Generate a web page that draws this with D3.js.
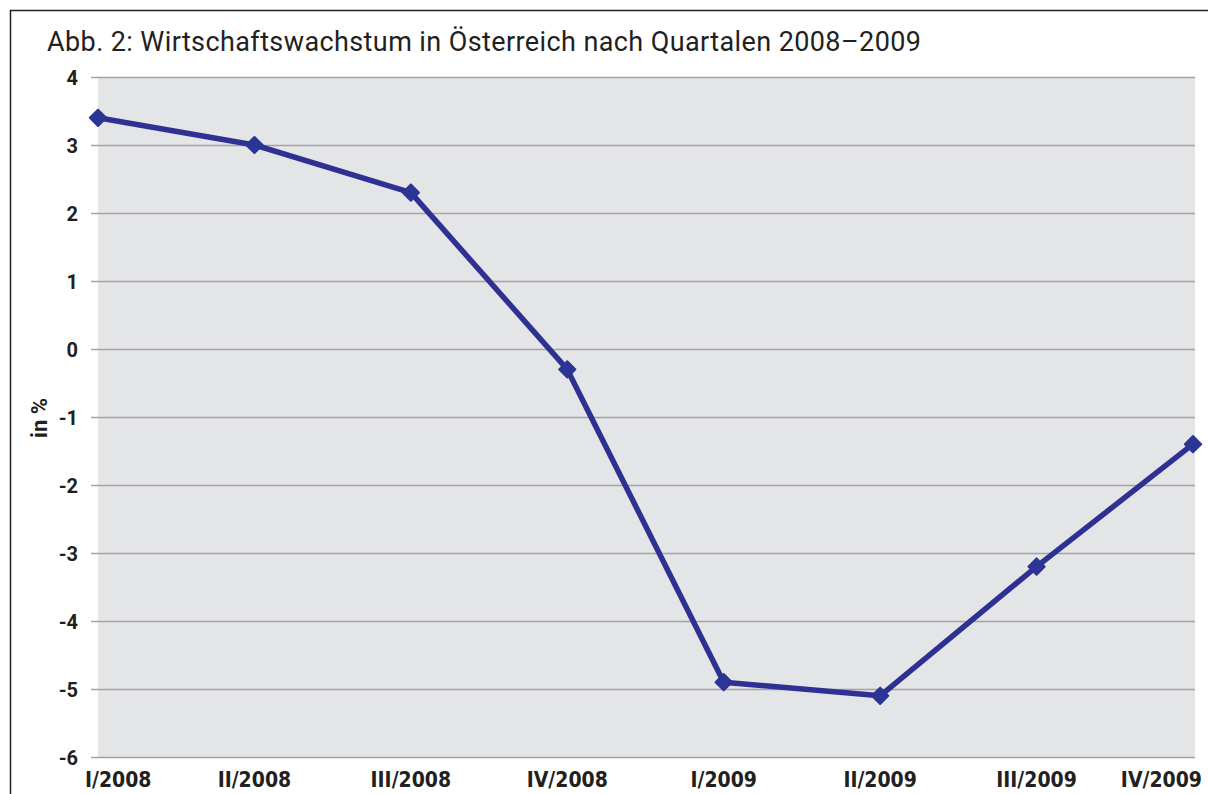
<!DOCTYPE html>
<meta charset="utf-8">
<style>
body {
	margin: 0;
	background: #fff;
}
svg text {
	font-family: Roboto, "DejaVu Sans", sans-serif;
	fill: #231f20;
}
.title {
	font-size: 27px;
	letter-spacing: 0.4px;
}
.yTicks .tick text {
	font-size: 20px;
	font-weight: bold;
}
.xLabel {
	font-family: "Liberation Sans Narrow", "DejaVu Sans Condensed", Roboto, sans-serif !important;
	font-size: 21px;
	font-weight: bold;
}
</style>
<html>
	<head>
		<script src="https://cdn.jsdelivr.net/npm/d3@7"></script>
	</head>
	<body>
		<svg id="chart"></svg>
<script>
'use strict'

const quarters = ["I/2008", "II/2008", "III/2008", "IV/2008", "I/2009", "II/2009", "III/2009", "IV/2009"]
const growth   = [3.4, 3.0, 2.3, -0.3, -4.9, -5.1, -3.2, -1.4]
const yTicks   = [4, 3, 2, 1, 0, -1, -2, -3, -4, -5, -6]

const chartWidth  = 1208,
      chartHeight = 794,
      plotLeft    = 98,
      plotRight   = 1195,
      plotTop     = 77,
      plotBottom  = 757

const svg = d3.select("#chart")
	.attr("width", chartWidth)
	.attr("height", chartHeight)

// frame (only top and left edges are visible)
svg.append("path")
	.attr("d", "M10.5," + chartHeight + "V10.5H" + chartWidth)
	.attr("fill", "none")
	.attr("stroke", "#231f20")
	.attr("stroke-width", 1.5)

svg.append("text")
	.attr("class", "title")
	.attr("x", 47)
	.attr("y", 51)
	.text("Abb. 2: Wirtschaftswachstum in Österreich nach Quartalen 2008–2009")

const x = d3.scalePoint().domain(quarters).range([plotLeft, plotRight - 2])
const y = d3.scaleLinear().domain([-6, 4]).range([plotBottom, plotTop])

// plot background
svg.append("rect")
	.attr("x", plotLeft)
	.attr("y", plotTop)
	.attr("width", plotRight - plotLeft)
	.attr("height", plotBottom - plotTop)
	.attr("fill", "#e4e5e7")

// y axis with gridlines
const yAxis = svg.append("g")
	.attr("class", "yTicks")
	.attr("transform", "translate(" + plotRight + ",0)")
	.call(d3.axisLeft(y).tickValues(yTicks).tickSize(plotRight - 91).tickPadding(13)
		.tickFormat(d => String(d)))
yAxis.select(".domain").remove()
yAxis.selectAll(".tick line")
	.attr("stroke", "#a3a3a3")
	.attr("stroke-width", 1.5)
yAxis.selectAll(".tick text").attr("dy", "0.36em")

// x labels: centred under the points, but kept inside the frame
const xLabels = svg.append("g")
	.selectAll("text")
	.data(quarters)
	.enter().append("text")
	.attr("class", "xLabel")
	.attr("y", 787)
	.attr("text-anchor", "middle")
	.text(d => d)
xLabels.attr("x", function(d) {
	const w = this.getComputedTextLength()
	return Math.max(85 + w / 2, Math.min(1202 - w / 2, x(d)))
})

// y axis title
svg.append("text")
	.attr("transform", "translate(47," + 418 + ") rotate(-90)")
	.attr("text-anchor", "middle")
	.style("font-size", "22px")
	.style("font-weight", "bold")
	.text("in %")

// line
const line = d3.line()
	.x((d, i) => x(quarters[i]))
	.y(d => y(d))

svg.append("path")
	.datum(growth)
	.attr("d", line)
	.attr("fill", "none")
	.attr("stroke", "#2e3192")
	.attr("stroke-width", 5.5)
	.attr("stroke-linejoin", "round")

// diamond markers
svg.selectAll(".marker")
	.data(growth)
	.enter().append("path")
	.attr("class", "marker")
	.attr("d", d3.symbol(d3.symbolDiamond2, 170))
	.attr("transform", (d, i) => "translate(" + x(quarters[i]) + "," + y(d) + ")")
	.attr("fill", "#2b3595")
	.attr("stroke", "#2b3595")
	.attr("stroke-width", 2)
	.attr("stroke-linejoin", "round")
</script>
	</body>
</html>
